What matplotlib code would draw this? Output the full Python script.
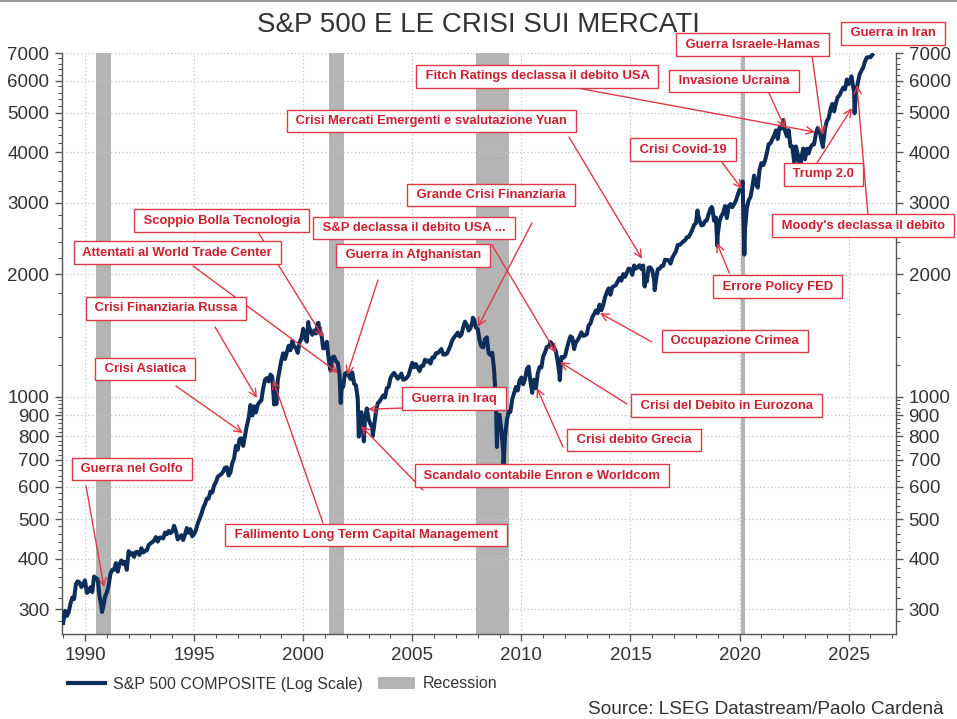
import matplotlib
matplotlib.use("Agg")
import matplotlib.pyplot as plt
from matplotlib.ticker import FixedLocator, FixedFormatter, NullFormatter
from matplotlib.lines import Line2D
from matplotlib.patches import Patch

plt.rcParams['font.family'] = ['Liberation Sans', 'DejaVu Sans']

# ---------------- data ----------------
first_date = 1989.0
first_value = 277.7

# S&P 500 month-end closes, Jan 1989 ... Jan 2026
monthly_close = [
    297.5, 288.9, 294.9, 309.6, 320.5, 318.0, 346.1, 351.5, 349.2, 340.4, 346.0, 353.4,   # 1989
    329.1, 331.9, 339.9, 330.8, 361.2, 358.0, 356.2, 322.6, 306.1, 304.0, 322.2, 330.2,   # 1990
    343.9, 367.1, 375.2, 375.3, 389.8, 371.2, 387.8, 395.4, 387.9, 392.5, 375.2, 417.1,   # 1991
    408.8, 412.7, 403.7, 415.0, 415.4, 408.1, 424.2, 414.0, 417.8, 418.7, 431.4, 435.7,   # 1992
    438.8, 443.4, 451.7, 440.2, 450.2, 450.5, 448.1, 463.6, 458.9, 467.8, 461.8, 466.5,   # 1993
    481.6, 467.1, 445.8, 450.9, 456.5, 444.3, 458.3, 475.5, 462.7, 472.4, 453.7, 459.3,   # 1994
    470.4, 487.4, 500.7, 514.7, 533.4, 544.8, 562.1, 561.9, 584.4, 581.5, 605.4, 615.9,   # 1995
    636.0, 640.4, 645.5, 654.2, 669.1, 670.6, 640.0, 652.0, 687.3, 705.3, 757.0, 740.7,   # 1996
    786.2, 790.8, 757.1, 801.3, 848.3, 885.1, 954.3, 899.5, 947.3, 914.6, 955.4, 970.4,   # 1997
    980.3, 1049.3, 1101.8, 1111.8, 1090.8, 1133.8, 1120.7, 957.3, 1017.0, 1098.7, 1163.6, 1229.2,   # 1998
    1279.6, 1238.3, 1286.4, 1335.2, 1301.8, 1372.7, 1328.7, 1320.4, 1282.7, 1362.9, 1388.9, 1469.3,   # 1999
    1394.5, 1366.4, 1498.6, 1452.4, 1420.6, 1454.6, 1430.8, 1517.7, 1436.5, 1429.4, 1315.0, 1320.3,   # 2000
    1366.0, 1239.9, 1160.3, 1249.5, 1255.8, 1224.4, 1211.2, 1133.6, 1040.9, 1059.8, 1139.5, 1148.1,   # 2001
    1130.2, 1106.7, 1147.4, 1076.9, 1067.1, 989.8, 911.6, 916.1, 815.3, 885.8, 936.3, 879.8,   # 2002
    855.7, 841.2, 848.2, 916.9, 963.6, 974.5, 990.3, 1008.0, 996.0, 1050.7, 1058.2, 1111.9,   # 2003
    1131.1, 1144.9, 1126.2, 1107.3, 1120.7, 1140.8, 1101.7, 1104.2, 1114.6, 1130.2, 1173.8, 1211.9,   # 2004
    1181.3, 1203.6, 1180.6, 1156.9, 1191.5, 1191.3, 1234.2, 1220.3, 1228.8, 1207.0, 1249.5, 1248.3,   # 2005
    1280.1, 1280.7, 1294.8, 1310.6, 1270.1, 1270.2, 1276.7, 1303.8, 1335.9, 1377.9, 1400.6, 1418.3,   # 2006
    1438.2, 1406.8, 1420.9, 1482.4, 1530.6, 1503.4, 1455.3, 1474.0, 1526.8, 1549.4, 1481.1, 1468.4,   # 2007
    1378.6, 1330.6, 1322.7, 1385.6, 1400.4, 1280.0, 1267.4, 1282.8, 1166.4, 968.8, 896.2, 903.3,   # 2008
    825.9, 735.1, 797.9, 872.8, 919.1, 919.3, 987.5, 1020.6, 1057.1, 1036.2, 1095.6, 1115.1,   # 2009
    1073.9, 1104.5, 1169.4, 1186.7, 1089.4, 1030.7, 1101.6, 1049.3, 1141.2, 1183.3, 1180.6, 1257.6,   # 2010
    1286.1, 1327.2, 1325.8, 1363.6, 1345.2, 1320.6, 1292.3, 1218.9, 1131.4, 1253.3, 1247.0, 1257.6,   # 2011
    1312.4, 1365.7, 1408.5, 1397.9, 1310.3, 1362.2, 1379.3, 1406.6, 1440.7, 1412.2, 1416.2, 1426.2,   # 2012
    1498.1, 1514.7, 1569.2, 1597.6, 1630.7, 1606.3, 1685.7, 1633.0, 1681.6, 1756.5, 1805.8, 1848.4,   # 2013
    1782.6, 1859.5, 1872.3, 1884.0, 1923.6, 1960.2, 1930.7, 2003.4, 1972.3, 2018.1, 2067.6, 2058.9,   # 2014
    1995.0, 2104.5, 2067.9, 2085.5, 2107.4, 2063.1, 2103.8, 1972.2, 1920.0, 2079.4, 2080.4, 2043.9,   # 2015
    1940.2, 1932.2, 2059.7, 2065.3, 2097.0, 2098.9, 2173.6, 2171.0, 2168.3, 2126.2, 2198.8, 2238.8,   # 2016
    2278.9, 2363.6, 2362.7, 2384.2, 2411.8, 2423.4, 2470.3, 2471.7, 2519.4, 2575.3, 2647.6, 2673.6,   # 2017
    2823.8, 2713.8, 2640.9, 2648.1, 2705.3, 2718.4, 2816.3, 2901.5, 2914.0, 2711.7, 2760.2, 2506.9,   # 2018
    2704.1, 2784.5, 2834.4, 2945.8, 2752.1, 2941.8, 2980.4, 2926.5, 2976.7, 3037.6, 3141.0, 3230.8,   # 2019
    3225.5, 2954.2, 2584.6, 2912.4, 3044.3, 3100.3, 3271.1, 3500.3, 3363.0, 3270.0, 3621.6, 3756.1,   # 2020
    3714.2, 3811.2, 3972.9, 4181.2, 4204.1, 4297.5, 4395.3, 4522.7, 4307.5, 4605.4, 4567.0, 4766.2,   # 2021
    4515.6, 4373.9, 4530.4, 4131.9, 4132.2, 3785.4, 4130.3, 3955.0, 3585.6, 3872.0, 4080.1, 3839.5,   # 2022
    4076.6, 3970.2, 4109.3, 4169.5, 4179.8, 4450.4, 4589.0, 4507.7, 4288.1, 4193.8, 4567.8, 4769.8,   # 2023
    4845.7, 5096.3, 5254.4, 5035.7, 5277.5, 5460.5, 5522.3, 5648.4, 5762.5, 5705.5, 6032.4, 5881.6,   # 2024
    6040.5, 5954.5, 5611.9, 5569.1, 5911.7, 6205.0, 6339.4, 6460.3, 6688.5, 6840.2, 6849.1, 6845.5,   # 2025
    6939.0,                                                                                        # 2026
]

# intra-month extremes visible on the weekly line
extreme_dates = [1990.78, 1998.77, 2000.23, 2000.70, 2001.72, 2002.55, 2002.78, 2003.19,
                 2007.78, 2008.88, 2009.18, 2010.50, 2011.76, 2015.65, 2016.11, 2018.07,
                 2018.72, 2018.98, 2020.14, 2020.22, 2022.00, 2022.78, 2023.82, 2025.13,
                 2025.27]
extreme_values = [295.5, 959.4, 1527.5, 1520.8, 965.8, 797.7, 776.8, 800.7,
                  1565.2, 752.4, 676.5, 1022.6, 1099.2, 1867.6, 1829.1, 2872.9,
                  2930.8, 2351.1, 3386.2, 2237.4, 4796.6, 3577.0, 4117.4, 6144.2,
                  4982.8]

recession_start = [1990.50, 2001.17, 2007.92, 2020.08]
recession_end = [1991.17, 2001.87, 2009.45, 2020.25]

y_major = [300, 400, 500, 600, 700, 800, 900, 1000, 2000, 3000, 4000, 5000, 6000, 7000]
y_minor = [v for v in range(280, 1000, 20) if v not in y_major] + \
          [v for v in range(1200, 7000, 200) if v not in y_major]
x_major = list(range(1990, 2026, 5))
x_minor = list(range(1989, 2028))

event_labels = [
    "Guerra nel Golfo", "Crisi Asiatica", "Crisi Finanziaria Russa",
    "Fallimento Long Term Capital Management", "Scoppio Bolla Tecnologia",
    "Attentati al World Trade Center", "Guerra in Afghanistan",
    "S&P declassa il debito USA ...", "Grande Crisi Finanziaria", "Guerra in Iraq",
    "Scandalo contabile Enron e Worldcom", "Crisi debito Grecia",
    "Crisi del Debito in Eurozona", "Occupazione Crimea",
    "Crisi Mercati Emergenti e svalutazione Yuan", "Errore Policy FED",
    "Crisi Covid-19", "Invasione Ucraina", "Fitch Ratings declassa il debito USA",
    "Guerra Israele-Hamas", "Trump 2.0", "Moody's declassa il debito", "Guerra in Iran",
]
event_dates = [1990.87, 1997.24, 1997.88, 1998.62, 2000.91, 2001.60, 2002.01, 2011.59,
               2008.01, 2002.97, 2002.65, 2010.71, 2011.77, 2013.60, 2015.53, 2018.96,
               2020.11, 2022.08, 2023.46, 2023.82, 2025.15, 2025.38, None]
event_values = [340, 814, 993, 1100, 1403, 1144, 1131, 1281,
                1486, 932, 848, 1051, 1218, 1607, 2185, 2390,
                3245, 4583, 4480, 4405, 5135, 5850, None]

# ---------------- layout (axes fraction) ----------------
box_pos = [
    (0.0839, 0.2845), (0.0995, 0.4566), (0.1247, 0.5608), (0.3645, 0.1709),
    (0.1918, 0.7114), (0.1385, 0.6571), (0.4209, 0.6520), (0.4221, 0.6993),
    (0.5144, 0.7561), (0.4700, 0.4058), (0.5755, 0.2733), (0.6859, 0.3344),
    (0.7968, 0.3938), (0.8070, 0.5048), (0.4430, 0.8835), (0.8579, 0.5986),
    (0.7446, 0.8336), (0.8058, 0.9523), (0.5701, 0.9609), (0.8279, 1.0151),
    (0.9131, 0.7922), (0.9604, 0.7028), (0.9964, 1.0341),
]
arrow_start = [
    (0.0288, 0.2553), (0.1367, 0.4274), (0.1835, 0.5289), (0.3129, 0.1916),
    (0.2350, 0.6924), (0.1571, 0.6339), (0.3789, 0.6098), (0.5156, 0.6701),
    (0.5635, 0.7079), (0.4113, 0.3895), (0.4329, 0.2484), (0.6007, 0.3224),
    (0.6775, 0.3964), (0.7074, 0.5031), (0.6079, 0.8559), (0.8000, 0.6219),
    (0.7902, 0.8146), (0.8477, 0.9317), (0.6175, 0.9403), (0.8993, 0.9967),
    (0.9053, 0.8112), (0.9664, 0.7217), None,
]

# ---------------- build series ----------------
dates = [first_date] + [1989 + (i + 1) / 12.0 for i in range(len(monthly_close))]
values = [first_value] + monthly_close
pairs = sorted(list(zip(dates, values)) + list(zip(extreme_dates, extreme_values)))
series_x = [p[0] for p in pairs]
series_y = [p[1] for p in pairs]

# ---------------- figure ----------------
W, H = 957, 719
fig = plt.figure(figsize=(W / 100, H / 100), dpi=100)
ax = fig.add_axes([62 / W, (H - 634.3) / H, (896 - 62) / W, (634.3 - 53.3) / H])

LINE_COL = '#0d2d5a'
REC_COL = '#b4b4b4'
RED_TXT = '#cc1f30'
RED_EDGE = '#dd3a48'
AX_COL = '#555555'
TXT_COL = '#333333'

for s, e in zip(recession_start, recession_end):
    ax.axvspan(s, e, color=REC_COL, lw=0, zorder=1)

ax.plot(series_x, series_y, color=LINE_COL, lw=2.9, zorder=3, solid_joinstyle='round')

ax.set_yscale('log')
ax.set_xlim(1988.946, 2027.17)
ax.set_ylim(260.4, 7000)

ax.yaxis.set_major_locator(FixedLocator(y_major))
ax.yaxis.set_major_formatter(FixedFormatter([str(v) for v in y_major]))
ax.yaxis.set_minor_locator(FixedLocator(y_minor))
ax.yaxis.set_minor_formatter(NullFormatter())
ax.xaxis.set_major_locator(FixedLocator(x_major))
ax.xaxis.set_major_formatter(FixedFormatter([str(v) for v in x_major]))
ax.xaxis.set_minor_locator(FixedLocator(x_minor))

ax.grid(True, which='major', color='#c4c4c4', lw=0.9, linestyle=(0, (1, 2)), zorder=2)
ax.set_axisbelow(False)
for gl in ax.get_xgridlines() + ax.get_ygridlines():
    gl.set_zorder(2)

ax.spines['top'].set_visible(False)
for sp in ['left', 'right', 'bottom']:
    ax.spines[sp].set_color(AX_COL)
    ax.spines[sp].set_linewidth(1.0)

ax.tick_params(axis='y', which='both', left=True, right=True, labelleft=True, labelright=True,
               direction='out', colors=AX_COL, labelcolor=TXT_COL, labelsize=13.5)
ax.tick_params(axis='x', which='both', bottom=True, top=False, direction='out',
               colors=AX_COL, labelcolor=TXT_COL, labelsize=13.5)
ax.tick_params(which='major', length=5, width=1, pad=4)
ax.tick_params(which='minor', length=3, width=0.8)

# annotations
for lab, d, v, bp, st in zip(event_labels, event_dates, event_values, box_pos, arrow_start):
    if d is not None:
        ax.annotate('', xy=(d, v), xycoords='data', xytext=st, textcoords='axes fraction',
                    arrowprops=dict(arrowstyle='->,head_length=0.45,head_width=0.22',
                                    color=RED_EDGE, lw=1.0, shrinkA=0, shrinkB=0,
                                    mutation_scale=12),
                    zorder=5, annotation_clip=False)
for lab, bp in zip(event_labels, box_pos):
    ax.text(bp[0], bp[1], ' ' + lab + ' ', transform=ax.transAxes, ha='center', va='center',
            fontsize=9.4, fontweight='bold', color=RED_TXT, zorder=6, clip_on=False,
            bbox=dict(boxstyle='square,pad=0.42', fc='white', ec=RED_EDGE, lw=1.0))

# title
fig.text(0.5, (H - 32) / H, 'S&P 500 E LE CRISI SUI MERCATI', ha='center', va='baseline',
         fontsize=20, color=TXT_COL)

# thin frame line at the very top of the image
fig.add_artist(Line2D([0, 1], [1 - 0.8 / H, 1 - 0.8 / H], transform=fig.transFigure,
                      color='#9a9a9a', lw=1.5))

# legend
handles = [Line2D([0], [0], color=LINE_COL, lw=3),
           Patch(facecolor=REC_COL, edgecolor='none')]
fig.legend(handles, ['S&P 500 COMPOSITE (Log Scale)', 'Recession'], ncol=2, frameon=False,
           loc='center left', bbox_to_anchor=(68 / W, (H - 684) / H), borderpad=0,
           borderaxespad=0, fontsize=11.5, handlelength=2.3, handleheight=0.7,
           handletextpad=0.5, columnspacing=1.0, labelcolor=TXT_COL)

fig.text(944 / W, (H - 709) / H, 'Source: LSEG Datastream/Paolo Cardenà', ha='right',
         va='center', fontsize=13.7, color=TXT_COL)

fig.savefig('out.png', dpi=100)
